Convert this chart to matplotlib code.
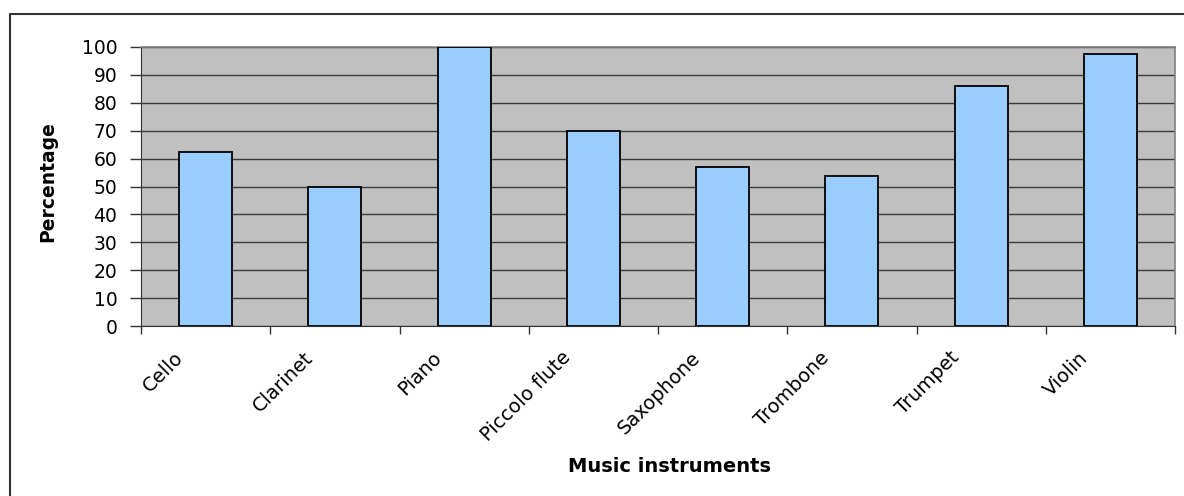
import matplotlib
matplotlib.use("Agg")
import matplotlib.pyplot as plt
from matplotlib.lines import Line2D
from matplotlib.transforms import ScaledTranslation
import numpy as np

instruments = ["Cello", "Clarinet", "Piano", "Piccolo flute", "Saxophone",
               "Trombone", "Trumpet", "Violin"]
percentages = [62.5, 50.0, 100.0, 70.0, 57.1, 53.8, 86.0, 97.5]
y_ticks = [0, 10, 20, 30, 40, 50, 60, 70, 80, 90, 100]

plt.rcParams["font.family"] = ["DejaVu Sans"]

W, H = 1184, 496
fig = plt.figure(figsize=(W / 100, H / 100), dpi=100)
fig.patch.set_facecolor("white")

# Outer chart frame (left and top edges visible)
fig.add_artist(Line2D([9.5 / W, 9.5 / W, 1.0], [0.0, 1 - 13.5 / H, 1 - 13.5 / H],
                      transform=fig.transFigure, color="#333333", lw=1.5))

ax = fig.add_axes([141 / W, 1 - 326 / H, (1175 - 141) / W, (326 - 47) / H])
ax.set_facecolor("#C0C0C0")

x = np.arange(len(instruments))
ax.set_axisbelow(True)
ax.yaxis.grid(True, color="#3a3a3a", lw=1.0)
ax.bar(x, percentages, width=0.41, color="#99CCFF", edgecolor="black", linewidth=1.3,
       zorder=3)

ax.set_xlim(-0.5, len(instruments) - 0.5)
ax.set_ylim(0, 100)
ax.set_yticks(y_ticks)
ax.tick_params(axis="y", labelsize=13.5, length=8, width=1, color="#333333", pad=9,
               direction="out")

# Category ticks sit on the boundaries between categories
ax.set_xticks(np.arange(len(instruments) + 1) - 0.5)
ax.set_xticklabels([])
ax.tick_params(axis="x", length=6, width=1, color="#333333", direction="out")

# Rotated category names, placed left of each category centre
label_shift = ScaledTranslation(-32 / 100, -22 / 100, fig.dpi_scale_trans)
for xi, name in zip(x, instruments):
    ax.text(xi, 0, name, transform=ax.get_xaxis_transform() + label_shift,
            rotation=45, rotation_mode="anchor", ha="right", va="top",
            fontsize=14)

for side in ["top", "right"]:
    ax.spines[side].set_color("#808080")
    ax.spines[side].set_linewidth(1.2)
ax.spines["left"].set_color("#333333")
ax.spines["bottom"].set_color("#333333")

fig.text(48 / W, 1 - 182 / H, "Percentage", rotation=90, fontsize=13.5,
         fontweight="bold", ha="center", va="center")
fig.text(670 / W, 1 - 466 / H, "Music instruments", fontsize=14,
         fontweight="bold", ha="center", va="center")

fig.savefig("out.png", dpi=100)
